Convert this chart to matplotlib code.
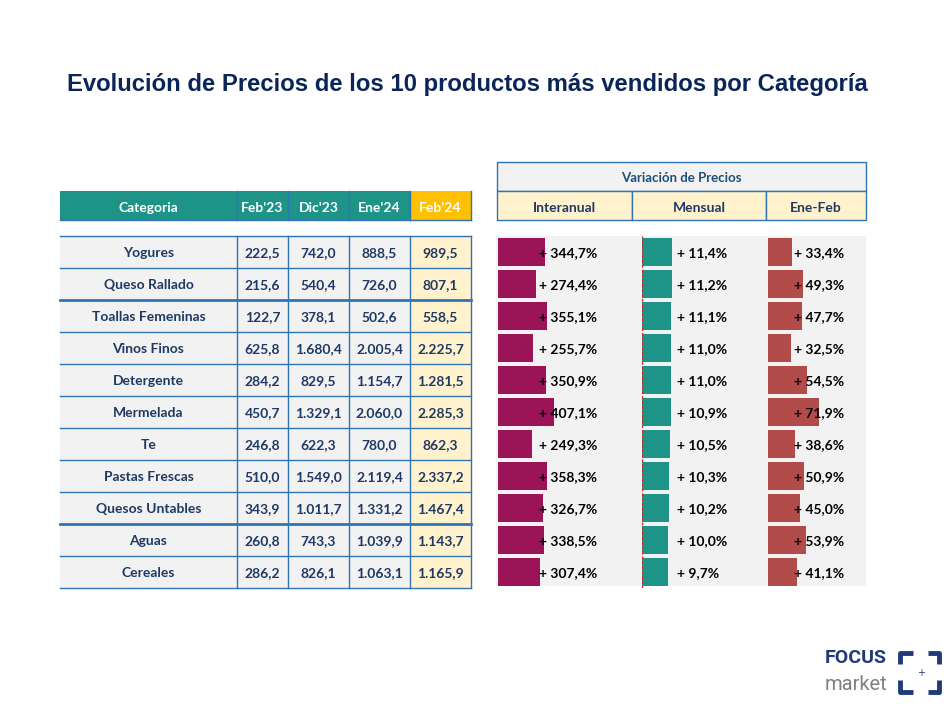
import numpy as np
import matplotlib.pyplot as plt
from matplotlib.patches import Rectangle

# Data
categorias = ["Yogures", "Queso Rallado", "Toallas Femeninas", "Vinos Finos", "Detergente",
              "Mermelada", "Te", "Pastas Frescas", "Quesos Untables", "Aguas", "Cereales"]
periodos = ["Feb'23", "Dic'23", "Ene'24", "Feb'24"]
feb23 = [222.5, 215.6, 122.7, 625.8, 284.2, 450.7, 246.8, 510.0, 343.9, 260.8, 286.2]
dic23 = [742.0, 540.4, 378.1, 1680.4, 829.5, 1329.1, 622.3, 1549.0, 1011.7, 743.3, 826.1]
ene24 = [888.5, 726.0, 502.6, 2005.4, 1154.7, 2060.0, 780.0, 2119.4, 1331.2, 1039.9, 1063.1]
feb24 = [989.5, 807.1, 558.5, 2225.7, 1281.5, 2285.3, 862.3, 2337.2, 1467.4, 1143.7, 1165.9]
variaciones = ["Interanual", "Mensual", "Ene-Feb"]
interanual = [344.7, 274.4, 355.1, 255.7, 350.9, 407.1, 249.3, 358.3, 326.7, 338.5, 307.4]
mensual = [11.4, 11.2, 11.1, 11.0, 11.0, 10.9, 10.5, 10.3, 10.2, 10.0, 9.7]
ene_feb = [33.4, 49.3, 47.7, 32.5, 54.5, 71.9, 38.6, 50.9, 45.0, 53.9, 41.1]

W, H = 953, 710
TEAL = '#1E9488'
NAVY = '#1F3864'
BLUE = '#2E75B6'
GRAY = '#F2F2F2'
YELLOW = '#FFF2CC'
FONT = 'Lato'
FS = 10


def fmt(v):
    s = f"{v:,.1f}"
    return s.replace(',', 'X').replace('.', ',').replace('X', '.')


def px_axes(x0, y0, x1, y1):
    return fig.add_axes([x0 / W, 1 - y1 / H, (x1 - x0) / W, (y1 - y0) / H])


def pixel_frame(a):
    a.set_xlim(0, W)
    a.set_ylim(H, 0)
    a.axis('off')


fig = plt.figure(figsize=(W / 100, H / 100), dpi=100)
ax = fig.add_axes([0, 0, 1, 1])
pixel_frame(ax)

ax.text(467, 84, "Evolución de Precios de los 10 productos más vendidos por Categoría",
        ha='center', va='center', fontsize=17.2, fontweight='bold', color='#0B2559',
        family='Liberation Sans')

# ---- left table ----
col_x = [60, 237, 288, 349, 410, 471]
top, rh = 236, 32
n = len(categorias)
# header
for j, lab in enumerate(["Categoria"] + periodos):
    fc = '#FFC000' if j == 4 else TEAL
    ax.add_patch(Rectangle((col_x[j], 191), col_x[j + 1] - col_x[j], 29, fc=fc, ec='none'))
    ax.text((col_x[j] + col_x[j + 1]) / 2, 207.5, lab, ha='center', va='center',
            color='white', fontsize=FS, fontweight='bold', family=FONT)
for x in col_x[1:]:
    ax.plot([x, x], [191, 220], color=BLUE, lw=1)
ax.plot([60, 471], [220, 220], color=BLUE, lw=1)

# body
bottom = top + n * rh
ax.add_patch(Rectangle((60, top), 350, n * rh, fc=GRAY, ec='none'))
ax.add_patch(Rectangle((410, top), 61, n * rh, fc=YELLOW, ec='none'))
valores = [feb23, dic23, ene24, feb24]
for i, cat in enumerate(categorias):
    yc = top + rh * i + rh / 2 + 1
    ax.text((col_x[0] + col_x[1]) / 2, yc, cat, ha='center', va='center',
            color=NAVY, fontsize=FS, fontweight='bold', family=FONT)
    for j, serie in enumerate(valores):
        ax.text((col_x[j + 1] + col_x[j + 2]) / 2, yc, fmt(serie[i]), ha='center', va='center',
                color=NAVY, fontsize=FS, fontweight='bold', family=FONT)
for i in range(n + 1):
    y = top + rh * i
    lw = 2 if i in (2, 9) else 1
    ax.plot([60, 471], [y, y], color=BLUE, lw=lw)
for x in col_x[1:]:
    ax.plot([x, x], [top, bottom], color=BLUE, lw=1)

# ---- right header ----
ax.add_patch(Rectangle((497, 162), 369, 29, fc=GRAY, ec=BLUE, lw=1))
ax.text(681.5, 177.5, "Variación de Precios", ha='center', va='center',
        color='#1F4E79', fontsize=9.5, fontweight='bold', family=FONT)
var_x = [497, 632, 766, 866]
for j, lab in enumerate(variaciones):
    ax.add_patch(Rectangle((var_x[j], 191), var_x[j + 1] - var_x[j], 29, fc=YELLOW, ec=BLUE, lw=1))
    ax.text((var_x[j] + var_x[j + 1]) / 2, 207.5, lab, ha='center', va='center',
            color=NAVY, fontsize=FS, fontweight='bold', family=FONT)

ax.add_patch(Rectangle((496, top), 370, bottom - top - 2, fc=GRAY, ec='none'))

# ---- bars ----
paneles = [
    (interanual, '#9B1457', 498, 632, 980, 539),
    (mensual, TEAL, 642, 766, 47, 677),
    (ene_feb, '#B24C4A', 768, 866, 138, 794),
]
y = np.arange(n)
for vals, color, x0, x1, xmax, lab_x in paneles:
    bax = px_axes(x0, top, x1, bottom)
    bax.barh(y, vals, height=0.875, color=color)
    bax.set_xlim(0, xmax)
    bax.set_ylim(n - 0.5, -0.5)
    bax.axis('off')
    if vals is mensual:
        bax.axvline(0, color='#E02020', lw=1, ls=(0, (2, 1.5)))

# labels on an overlay so they sit over the bars
lax = fig.add_axes([0, 0, 1, 1])
pixel_frame(lax)
for vals, color, x0, x1, xmax, lab_x in paneles:
    for i, v in enumerate(vals):
        lax.text(lab_x, top + rh * i + rh / 2 + 1, "+ " + fmt(v) + "%", ha='left', va='center',
                 color='black', fontsize=FS, fontweight='bold', family=FONT)

# ---- logo ----
lax.text(825, 658, "FOCUS", ha='left', va='center', color='#203A7A', fontsize=14,
         fontweight='bold', family='Roboto')
lax.text(825, 684, "market", ha='left', va='center', color='#808080', fontsize=14.5,
         family='Roboto')
lk = dict(color='#203A7A', lw=3.5, solid_capstyle='butt')
lax.plot([900, 900, 913], [664, 653, 653], **lk)
lax.plot([928, 939, 939], [653, 653, 664], **lk)
lax.plot([900, 900, 913], [680, 692, 692], **lk)
lax.plot([928, 939, 939], [692, 692, 680], **lk)
lax.text(921, 673, "+", ha='center', va='center', color='#203A7A', fontsize=7)

fig.savefig('out.png', dpi=100)
